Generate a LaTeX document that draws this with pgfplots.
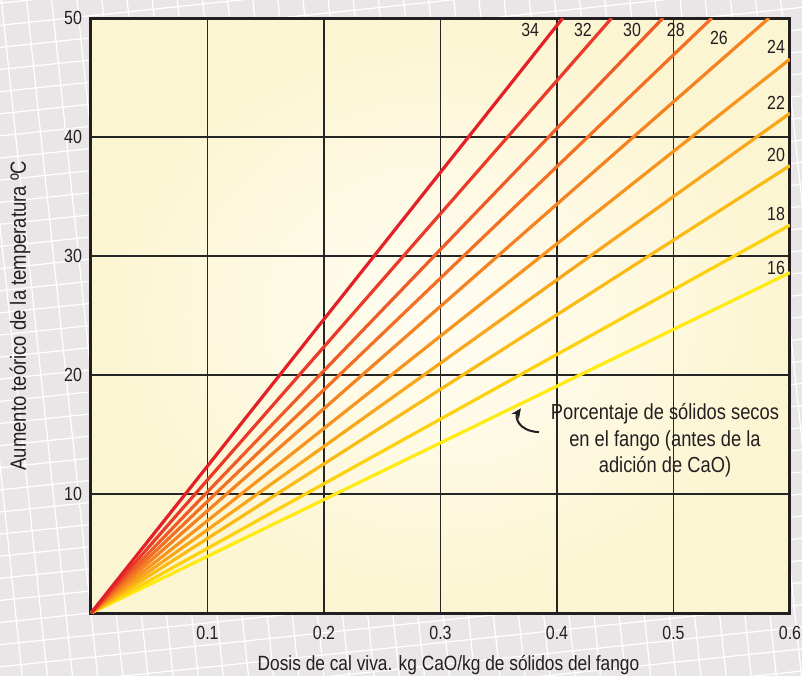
\documentclass[border=0pt]{standalone}
\usepackage{pgfplots}
\pgfplotsset{compat=1.18}
\usepackage{fontspec}
\setmainfont{Liberation Sans}[FakeStretch=0.84]
\usetikzlibrary{arrows.meta}
\definecolor{bgg}{HTML}{EAE6E8}
\definecolor{cream}{HTML}{FCF5D2}
\definecolor{creamc}{HTML}{FFFDF2}
\definecolor{txt}{HTML}{231F20}
\definecolor{c34}{HTML}{E32026}
\definecolor{c32}{HTML}{E93A2A}
\definecolor{c30}{HTML}{EE5A28}
\definecolor{c28}{HTML}{F26F23}
\definecolor{c26}{HTML}{F58220}
\definecolor{c24}{HTML}{F7941D}
\definecolor{c22}{HTML}{F9A61A}
\definecolor{c20}{HTML}{FBBB15}
\definecolor{c18}{HTML}{FDD20D}
\definecolor{c16}{HTML}{FFEA12}
\begin{document}
\begin{tikzpicture}
\fill[bgg] (-45.5pt,-31.5pt) rectangle (355.5pt,306.5pt);
\begin{scope}
\clip (-45.5pt,-31.5pt) rectangle (355.5pt,306.5pt);
\draw[white, line width=0.6pt, rotate=6] (-120pt,-120pt) grid[xstep=12.5pt, ystep=11pt] (500pt,460pt);
\end{scope}
\begin{axis}[
  at={(0,0)}, anchor=south west,
  scale only axis, width=349.5pt, height=297.5pt,
  xmin=0, xmax=0.6, ymin=0, ymax=50,
  xtick={0.1,0.2,0.3,0.4,0.5,0.6},
  ytick={10,20,30,40,50},
  xticklabels={0.1,0.2,0.3,0.4,0.5,0.6},
  yticklabels={10,20,30,40,50},
  major tick length=0pt,
  grid=major,
  major grid style={black!85, line width=0.9pt},
  axis line style={txt, line width=1.5pt},
  axis background/.style={shade, shading=radial, inner color=creamc, outer color=cream},
  tick label style={font=\fontsize{9.5}{11}\selectfont, text=txt},
  xticklabel style={yshift=-3pt},
  yticklabel style={xshift=-1pt},
  label style={text=txt},
  xlabel={Dosis de cal viva. kg CaO/kg de sólidos del fango},
  ylabel={Aumento teórico de la temperatura ºC},
  xlabel style={font=\fontsize{10.3}{12}\selectfont, yshift=-1pt, xshift=4pt},
  ylabel style={font=\fontsize{11}{13}\selectfont, yshift=10pt},
  clip=true,
  every axis plot/.append style={line width=1.6pt},
]
\addplot[c16] coordinates {(0,0) (0.6,28.6)};
\addplot[c18] coordinates {(0,0) (0.6,32.6)};
\addplot[c20] coordinates {(0,0) (0.6,37.6)};
\addplot[c22] coordinates {(0,0) (0.6,42.0)};
\addplot[c24] coordinates {(0,0) (0.6,46.55)};
\addplot[c26] coordinates {(0,0) (0.582,50)};
\addplot[c28] coordinates {(0,0) (0.533,50)};
\addplot[c30] coordinates {(0,0) (0.491,50)};
\addplot[c32] coordinates {(0,0) (0.447,50)};
\addplot[c34] coordinates {(0,0) (0.405,50)};
\begin{scope}[every node/.style={font=\fontsize{9.5}{11}\selectfont, text=txt, inner sep=0pt}]
\node at (axis cs:0.377,49.0) {34};
\node at (axis cs:0.4223,49.0) {32};
\node at (axis cs:0.4644,49.0) {30};
\node at (axis cs:0.502,49.0) {28};
\node at (axis cs:0.539,48.3) {26};
\node at (axis cs:0.588,47.6) {24};
\node at (axis cs:0.588,42.9) {22};
\node at (axis cs:0.588,38.5) {20};
\node at (axis cs:0.588,33.5) {18};
\node at (axis cs:0.588,29.0) {16};
\end{scope}
\node[font=\fontsize{10.9}{13.25}\selectfont, text=txt, align=center, inner sep=0pt] at (axis cs:0.4927,14.5) {Porcentaje de sólidos secos\\en el fango (antes de la\\adición de CaO)};
\draw[-{Stealth[length=5pt,width=4.5pt]}, line width=1pt, txt] (axis cs:0.3845,15.2) .. controls (axis cs:0.366,15.3) and (axis cs:0.364,16.5) .. (axis cs:0.369,17.2);
\end{axis}
\pgfresetboundingbox
\useasboundingbox (-45.5pt,-31.5pt) rectangle (355.5pt,306.5pt);
\end{tikzpicture}
\end{document}
